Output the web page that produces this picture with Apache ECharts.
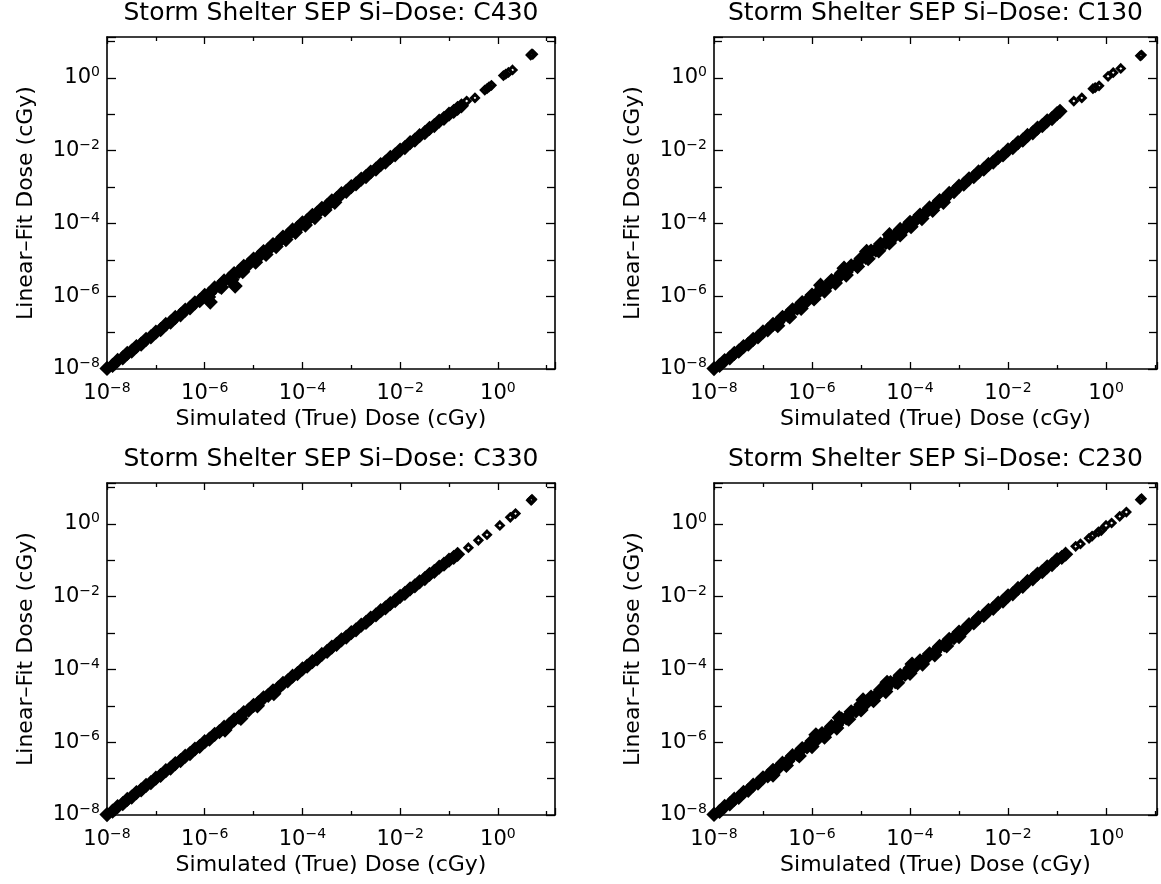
<!DOCTYPE html>
<html><head><meta charset="utf-8">
<script src="https://cdn.jsdelivr.net/npm/echarts@6/dist/echarts.min.js"></script>
<style>html,body{margin:0;padding:0;background:#fff}#c{width:1161px;height:884px}</style>
</head><body><div id="c"></div>
<script>
// Panel titles
const panelTitles = ['Storm Shelter SEP Si\u2013Dose: C430','Storm Shelter SEP Si\u2013Dose: C130','Storm Shelter SEP Si\u2013Dose: C330','Storm Shelter SEP Si\u2013Dose: C230'];
const xAxisTitle = 'Simulated (True) Dose (cGy)';
const yAxisTitle = 'Linear\u2013Fit Dose (cGy)';
// labelled tick exponents (10^n)
const tickExponents = [-8,-6,-4,-2,0];
// axis ranges in decades (log10 of dose)
const axisMinExp = -8;
const xMaxExp = [1.17,1.04,1.17,1.04];
const yMaxExp = [1.12,1.12,1.12,1.12];

// [simulated dose, linear-fit dose] in cGy
const c430Points = [
[1.0e-8,1.04e-8],[1.3e-8,1.25e-8],[1.65e-8,1.72e-8],[2.1e-8,2.02e-8],[2.6e-8,2.7e-8],[3.2e-8,3.08e-8],[4.0e-8,4.15e-8],[5.0e-8,4.8e-8],[6.3e-8,6.55e-8],[7.9e-8,7.6e-8],
[1.0e-7,1.03e-7],[1.25e-7,1.2e-7],[1.6e-7,1.67e-7],[2.0e-7,1.93e-7],[2.5e-7,2.6e-7],[3.2e-7,3.07e-7],[4.0e-7,4.17e-7],[5.0e-7,4.8e-7],[6.3e-7,6.6e-7],[7.9e-7,7.55e-7],
[1.0e-6,1.05e-6],[1.25e-6,1.19e-6],[1.6e-6,1.68e-6],[2.0e-6,1.9e-6],[2.5e-6,2.62e-6],[3.2e-6,3.05e-6],[4.0e-6,4.2e-6],[5.0e-6,4.75e-6],[6.3e-6,6.6e-6],[7.9e-6,7.5e-6],
[1.0e-5,1.05e-5],[1.25e-5,1.19e-5],[1.6e-5,1.68e-5],[2.0e-5,1.9e-5],[2.5e-5,2.63e-5],[3.2e-5,3.04e-5],[4.0e-5,4.2e-5],[5.0e-5,4.75e-5],[6.3e-5,6.6e-5],[7.9e-5,7.5e-5],
[1.0e-4,1.04e-4],[1.25e-4,1.2e-4],[1.6e-4,1.66e-4],[2.0e-4,1.92e-4],[2.5e-4,2.6e-4],[3.2e-4,3.07e-4],[4.0e-4,4.16e-4],[5.0e-4,4.8e-4],[6.3e-4,6.55e-4],[7.9e-4,7.6e-4],
[1.0e-3,1.03e-3],[1.25e-3,1.21e-3],[1.6e-3,1.65e-3],[2.0e-3,1.93e-3],[2.5e-3,2.58e-3],[3.2e-3,3.1e-3],[4.0e-3,4.12e-3],[5.0e-3,4.85e-3],[6.3e-3,6.5e-3],[7.9e-3,7.65e-3],
[1.0e-2,1.03e-2],[1.25e-2,1.21e-2],[1.6e-2,1.65e-2],[2.0e-2,1.94e-2],[2.5e-2,2.57e-2],[3.2e-2,3.1e-2],[4.0e-2,4.1e-2],[5.0e-2,4.85e-2],[6.3e-2,6.45e-2],[7.9e-2,7.7e-2],
[0.10,0.10],[0.125,0.12],[0.15,0.145],[0.18,0.17],
[1.2e-6,0.95e-6],[2.2e-6,1.75e-6],[3.6e-6,2.85e-6],[6.0e-6,4.7e-6],[1.1e-5,8.6e-6],[1.8e-5,1.4e-5],[2.9e-5,2.3e-5],[4.6e-5,3.6e-5],[7.2e-5,5.7e-5],[1.15e-4,9.0e-5],[1.8e-4,1.45e-4],[2.9e-4,2.35e-4],[4.6e-4,3.8e-4],
[4.2e-6,1.9e-6],[1.3e-6,0.69e-6],
[0.23,0.23],[0.34,0.28],[0.54,0.46],[0.60,0.50],[0.66,0.56],[0.74,0.62],[1.30,1.15],[1.45,1.25],[1.65,1.40],[2.0,1.64],[4.7,4.2],[5.0,4.5],[5.2,4.4]
];
const c130Points = [
[1.0e-8,1.03e-8],[1.3e-8,1.26e-8],[1.65e-8,1.71e-8],[2.1e-8,2.03e-8],[2.6e-8,2.69e-8],[3.2e-8,3.09e-8],[4.0e-8,4.14e-8],[5.0e-8,4.82e-8],[6.3e-8,6.52e-8],[7.9e-8,7.62e-8],
[1.0e-7,1.04e-7],[1.25e-7,1.19e-7],[1.6e-7,1.68e-7],[2.0e-7,1.9e-7],[2.5e-7,2.64e-7],[3.2e-7,3.02e-7],[4.0e-7,4.24e-7],[5.0e-7,4.7e-7],[6.3e-7,6.7e-7],[7.9e-7,7.4e-7],
[1.0e-6,1.07e-6],[1.25e-6,1.17e-6],[1.6e-6,1.72e-6],[2.0e-6,1.86e-6],[2.5e-6,2.68e-6],[3.2e-6,2.98e-6],[4.0e-6,4.3e-6],[5.0e-6,4.65e-6],[6.3e-6,6.8e-6],[7.9e-6,7.35e-6],
[1.0e-5,1.08e-5],[1.25e-5,1.16e-5],[1.6e-5,1.73e-5],[2.0e-5,1.85e-5],[2.5e-5,2.7e-5],[3.2e-5,2.97e-5],[4.0e-5,4.3e-5],[5.0e-5,4.65e-5],[6.3e-5,6.8e-5],[7.9e-5,7.35e-5],
[1.0e-4,1.07e-4],[1.25e-4,1.17e-4],[1.6e-4,1.7e-4],[2.0e-4,1.88e-4],[2.5e-4,2.65e-4],[3.2e-4,3.0e-4],[4.0e-4,4.24e-4],[5.0e-4,4.72e-4],[6.3e-4,6.65e-4],[7.9e-4,7.5e-4],
[1.0e-3,1.05e-3],[1.25e-3,1.19e-3],[1.6e-3,1.67e-3],[2.0e-3,1.91e-3],[2.5e-3,2.6e-3],[3.2e-3,3.08e-3],[4.0e-3,4.15e-3],[5.0e-3,4.82e-3],[6.3e-3,6.5e-3],[7.9e-3,7.62e-3],
[1.0e-2,1.04e-2],[1.25e-2,1.2e-2],[1.6e-2,1.66e-2],[2.0e-2,1.93e-2],[2.5e-2,2.6e-2],[3.2e-2,3.08e-2],[4.0e-2,4.15e-2],[5.0e-2,4.82e-2],[6.3e-2,6.55e-2],[7.9e-2,7.6e-2],
[0.10,0.104],[0.115,0.12],
[2.0e-7,1.55e-7],[3.5e-7,2.7e-7],[6.0e-7,4.6e-7],[1.1e-6,0.84e-6],[1.8e-6,1.38e-6],[3.0e-6,2.3e-6],[5.0e-6,3.8e-6],[8.5e-6,6.5e-6],[1.4e-5,1.07e-5],[2.3e-5,1.76e-5],[3.8e-5,2.9e-5],[6.3e-5,4.8e-5],[1.05e-4,8.1e-5],[1.75e-4,1.36e-4],[2.9e-4,2.28e-4],[4.8e-4,3.8e-4],
[1.5e-6,2.0e-6],[4.5e-6,5.9e-6],[1.3e-5,1.7e-5],[3.8e-5,4.9e-5],
[0.22,0.23],[0.32,0.28],[0.54,0.50],[0.60,0.54],[0.72,0.60],[1.1,1.1],[1.4,1.38],[2.0,1.8],[5.0,4.0],[5.3,4.2]
];
const c330Points = [
[1.0e-8,1.03e-8],[1.3e-8,1.27e-8],[1.65e-8,1.7e-8],[2.1e-8,2.05e-8],[2.6e-8,2.68e-8],[3.2e-8,3.12e-8],[4.0e-8,4.12e-8],[5.0e-8,4.87e-8],[6.3e-8,6.5e-8],[7.9e-8,7.7e-8],
[1.0e-7,1.03e-7],[1.25e-7,1.22e-7],[1.6e-7,1.65e-7],[2.0e-7,1.95e-7],[2.5e-7,2.58e-7],[3.2e-7,3.12e-7],[4.0e-7,4.12e-7],[5.0e-7,4.87e-7],[6.3e-7,6.5e-7],[7.9e-7,7.7e-7],
[1.0e-6,1.03e-6],[1.25e-6,1.21e-6],[1.6e-6,1.65e-6],[2.0e-6,1.94e-6],[2.5e-6,2.58e-6],[3.2e-6,3.1e-6],[4.0e-6,4.13e-6],[5.0e-6,4.85e-6],[6.3e-6,6.5e-6],[7.9e-6,7.65e-6],
[1.0e-5,1.03e-5],[1.25e-5,1.21e-5],[1.6e-5,1.65e-5],[2.0e-5,1.94e-5],[2.5e-5,2.58e-5],[3.2e-5,3.1e-5],[4.0e-5,4.13e-5],[5.0e-5,4.85e-5],[6.3e-5,6.5e-5],[7.9e-5,7.65e-5],
[1.0e-4,1.03e-4],[1.25e-4,1.22e-4],[1.6e-4,1.64e-4],[2.0e-4,1.95e-4],[2.5e-4,2.57e-4],[3.2e-4,3.11e-4],[4.0e-4,4.1e-4],[5.0e-4,4.87e-4],[6.3e-4,6.47e-4],[7.9e-4,7.7e-4],
[1.0e-3,1.02e-3],[1.25e-3,1.22e-3],[1.6e-3,1.64e-3],[2.0e-3,1.95e-3],[2.5e-3,2.56e-3],[3.2e-3,3.12e-3],[4.0e-3,4.1e-3],[5.0e-3,4.88e-3],[6.3e-3,6.45e-3],[7.9e-3,7.72e-3],
[1.0e-2,1.02e-2],[1.25e-2,1.22e-2],[1.6e-2,1.63e-2],[2.0e-2,1.96e-2],[2.5e-2,2.55e-2],[3.2e-2,3.13e-2],[4.0e-2,4.08e-2],[5.0e-2,4.9e-2],[6.3e-2,6.42e-2],[7.9e-2,7.75e-2],
[0.10,0.10],[0.125,0.12],[0.15,0.145],
[2.6e-6,2.15e-6],[5.5e-6,4.5e-6],[1.2e-5,1.0e-5],[2.6e-5,2.15e-5],
[0.25,0.22],[0.40,0.35],[0.60,0.50],[1.1,0.9],[1.8,1.5],[2.3,1.9],[4.8,4.4],[5.0,4.7]
];
const c230Points = [
[1.0e-8,1.04e-8],[1.3e-8,1.25e-8],[1.65e-8,1.72e-8],[2.1e-8,2.01e-8],[2.6e-8,2.71e-8],[3.2e-8,3.06e-8],[4.0e-8,4.18e-8],[5.0e-8,4.78e-8],[6.3e-8,6.6e-8],[7.9e-8,7.55e-8],
[1.0e-7,1.05e-7],[1.25e-7,1.18e-7],[1.6e-7,1.69e-7],[2.0e-7,1.89e-7],[2.5e-7,2.65e-7],[3.2e-7,3.0e-7],[4.0e-7,4.25e-7],[5.0e-7,4.7e-7],[6.3e-7,6.7e-7],[7.9e-7,7.4e-7],
[1.0e-6,1.07e-6],[1.25e-6,1.17e-6],[1.6e-6,1.73e-6],[2.0e-6,1.85e-6],[2.5e-6,2.7e-6],[3.2e-6,2.96e-6],[4.0e-6,4.32e-6],[5.0e-6,4.62e-6],[6.3e-6,6.85e-6],[7.9e-6,7.3e-6],
[1.0e-5,1.08e-5],[1.25e-5,1.15e-5],[1.6e-5,1.74e-5],[2.0e-5,1.84e-5],[2.5e-5,2.72e-5],[3.2e-5,2.95e-5],[4.0e-5,4.35e-5],[5.0e-5,4.6e-5],[6.3e-5,6.85e-5],[7.9e-5,7.3e-5],
[1.0e-4,1.08e-4],[1.25e-4,1.16e-4],[1.6e-4,1.72e-4],[2.0e-4,1.86e-4],[2.5e-4,2.68e-4],[3.2e-4,2.98e-4],[4.0e-4,4.28e-4],[5.0e-4,4.68e-4],[6.3e-4,6.72e-4],[7.9e-4,7.42e-4],
[1.0e-3,1.06e-3],[1.25e-3,1.18e-3],[1.6e-3,1.69e-3],[2.0e-3,1.89e-3],[2.5e-3,2.64e-3],[3.2e-3,3.03e-3],[4.0e-3,4.2e-3],[5.0e-3,4.75e-3],[6.3e-3,6.6e-3],[7.9e-3,7.55e-3],
[1.0e-2,1.05e-2],[1.25e-2,1.19e-2],[1.6e-2,1.67e-2],[2.0e-2,1.92e-2],[2.5e-2,2.6e-2],[3.2e-2,3.08e-2],[4.0e-2,4.15e-2],[5.0e-2,4.82e-2],[6.3e-2,6.55e-2],[7.9e-2,7.6e-2],
[0.10,0.104],[0.125,0.12],[0.15,0.146],
[1.6e-7,1.25e-7],[3.0e-7,2.3e-7],[5.5e-7,4.2e-7],[1.0e-6,0.76e-6],[1.8e-6,1.37e-6],[3.2e-6,2.45e-6],[5.6e-6,4.3e-6],[1.0e-5,0.77e-5],[1.8e-5,1.38e-5],[3.2e-5,2.45e-5],[5.6e-5,4.3e-5],[1.0e-4,0.78e-4],[1.8e-4,1.4e-4],[3.2e-4,2.5e-4],[5.6e-4,4.4e-4],[1.0e-3,0.8e-3],
[1.2e-6,1.6e-6],[3.6e-6,4.7e-6],[1.1e-5,1.45e-5],[3.4e-5,4.4e-5],[1.1e-4,1.4e-4],
[0.24,0.24],[0.30,0.28],[0.45,0.40],[0.52,0.46],[0.70,0.60],[0.80,0.65],[1.0,0.9],[1.3,1.05],[1.9,1.6],[2.6,2.1],[5.0,4.6],[5.3,4.9]
];
const panelPoints = [c430Points, c130Points, c330Points, c230Points];
// below this simulated dose the diamonds overlap into a solid band
const solidBandBelowDose = 0.2;

const FONT = 'DejaVu Sans';
const grids = [
  {left:107, top:37, width:448, height:332},
  {left:714, top:37, width:443, height:332},
  {left:107, top:483, width:448, height:332},
  {left:714, top:483, width:443, height:332}
];
function labelFmt(v){
  for (const e of tickExponents){ if (Math.abs(v - e) < 1e-9) return '10{s|' + (e < 0 ? '\u2212' + (-e) : '0') + '}'; }
  return '';
}
const labelStyle = {fontFamily:FONT, fontSize:21, color:'#000', lineHeight:25,
  rich:{s:{fontFamily:FONT, fontSize:14, lineHeight:15, verticalAlign:'top', color:'#000'}}};
const line = {onZero:false, lineStyle:{color:'#000', width:1.6}};
function mkX(i, pos){
  const top = pos === 'top';
  return {gridIndex:i, type:'value', position:pos, min:axisMinExp, max:xMaxExp[i], interval:2,
    axisLine:line, splitLine:{show:false},
    axisTick:{inside:true, length:7, lineStyle:{color:'#000', width:1.3}},
    minorTick:{show:true, splitNumber:2, length:4, lineStyle:{color:'#000', width:1.3}},
    axisLabel: top ? {show:false} : Object.assign({formatter:labelFmt, margin:12, showMinLabel:true, showMaxLabel:true}, labelStyle),
    name: top ? panelTitles[i] : xAxisTitle, nameLocation:'middle', nameGap: top ? 11 : 39,
    nameTextStyle:{fontFamily:FONT, fontSize: top ? 25 : 22, color:'#000'}};
}
function mkY(i, pos){
  const right = pos === 'right';
  return {gridIndex:i, type:'value', position:pos, min:axisMinExp, max:yMaxExp[i], interval:2,
    axisLine:line, splitLine:{show:false},
    axisTick:{inside:true, length:9, lineStyle:{color:'#000', width:1.3}},
    minorTick:{show:true, splitNumber:2, length:8, lineStyle:{color:'#000', width:1.3}},
    axisLabel: right ? {show:false} : Object.assign({formatter:labelFmt, margin:7, showMinLabel:true, showMaxLabel:true}, labelStyle),
    name: right ? '' : yAxisTitle, nameLocation:'middle', nameGap:70,
    nameTextStyle:{fontFamily:FONT, fontSize:22, color:'#000'}};
}
const xAxes = [], yAxes = [], series = [];
const solidLimitExp = Math.log10(solidBandBelowDose);
for (let i = 0; i < 4; i++){
  xAxes.push(mkX(i,'bottom'), mkX(i,'top'));
  yAxes.push(mkY(i,'left'), mkY(i,'right'));
  series.push({type:'scatter', xAxisIndex:2*i, yAxisIndex:2*i, symbol:'diamond',
    symbolSize: v => (v[0] < solidLimitExp ? 11 : 7),
    silent:true, clip:false,
    itemStyle:{opacity:1, color: p => (p.value[0] < solidLimitExp ? '#000' : 'rgba(255,255,255,0)'), borderColor:'#000', borderWidth:3},
    data: panelPoints[i].map(p => [Math.log10(p[0]), Math.log10(p[1])])});
}
const chart = echarts.init(document.getElementById('c'), null, {renderer:'canvas'});
chart.setOption({animation:false, backgroundColor:'#fff', grid:grids, xAxis:xAxes, yAxis:yAxes, series:series});
</script></body></html>
